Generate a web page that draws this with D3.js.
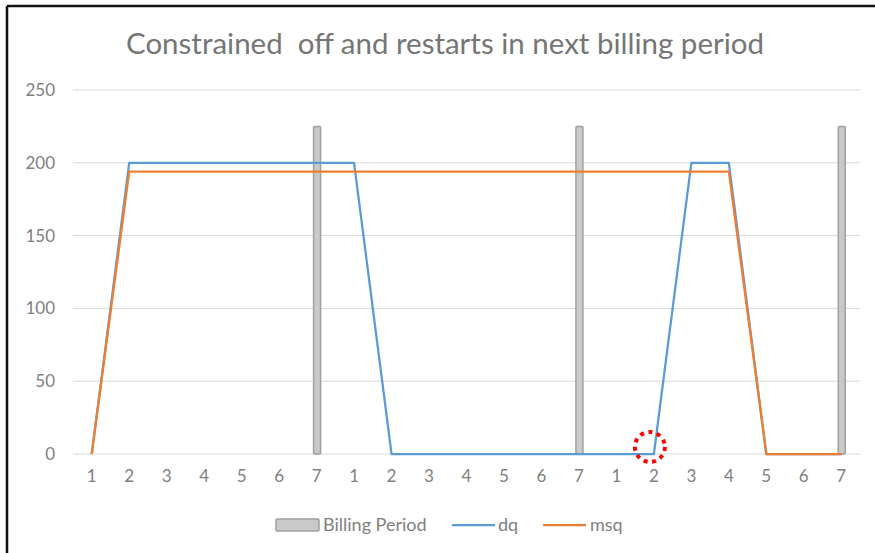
<!DOCTYPE html>
<html>
<head>
<meta charset="utf-8">
<title>Constrained off and restarts in next billing period</title>
<style>
  body { margin: 0; background: #fff; }
  svg { display: block; font-family: Lato, "Noto Sans", sans-serif; }
</style>
</head>
<body>
<script src="https://d3js.org/d3.v7.min.js"></script>
<script>
// chart data
const periods = [1,2,3,4,5,6,7, 1,2,3,4,5,6,7, 1,2,3,4,5,6,7];
const billing = [0,0,0,0,0,0,225, 0,0,0,0,0,0,225, 0,0,0,0,0,0,225];
const dq  = [0,200,200,200,200,200,200, 200,0,0,0,0,0,0, 0,0,200,200,0,0,0];
const msq = [0,194,194,194,194,194,194, 194,194,194,194,194,194,194, 194,194,194,194,0,0,0];
const yTicks = [0, 50, 100, 150, 200, 250];
const markIndex = 15; // the circled point

let width = 875;
let height = 553;

let svg = d3.select("body").append("svg")
  .attr("width", width)
  .attr("height", height);

// frame (top and left edges only)
svg.append("line")
  .attr("x1", 7).attr("y1", 6).attr("x2", width).attr("y2", 6)
  .attr("stroke", "#111").attr("stroke-width", 2.5);
svg.append("line")
  .attr("x1", 7).attr("y1", 6).attr("x2", 7).attr("y2", height)
  .attr("stroke", "#111").attr("stroke-width", 2.5);

let idx = d3.range(periods.length);

let x = d3.scaleBand()
  .domain(idx)
  .range([73, 860]);

let y = d3.scaleLinear()
  .domain([0, 250])
  .range([454, 90]);

let cx = i => x(i) + x.bandwidth() / 2;

// gridlines
svg.selectAll(".grid")
  .data(yTicks)
  .enter()
  .append("line")
  .attr("class", "grid")
  .attr("x1", 73)
  .attr("x2", 860)
  .attr("y1", d => y(d))
  .attr("y2", d => y(d))
  .attr("stroke", "#d9d9d9")
  .attr("stroke-width", 1);

// y labels
svg.selectAll(".ylab")
  .data(yTicks)
  .enter()
  .append("text")
  .attr("class", "ylab")
  .attr("x", 55)
  .attr("y", d => y(d))
  .attr("dy", "0.35em")
  .attr("text-anchor", "end")
  .style("font-size", "17px")
  .attr("fill", "#808080")
  .text(d => d);

// x labels
svg.selectAll(".xlab")
  .data(idx)
  .enter()
  .append("text")
  .attr("class", "xlab")
  .attr("x", d => cx(d))
  .attr("y", 482)
  .attr("text-anchor", "middle")
  .style("font-size", "17px")
  .attr("fill", "#808080")
  .text(d => periods[d]);

// billing period bars
let barW = 7;
svg.selectAll(".bar")
  .data(idx.filter(i => billing[i] > 0))
  .enter()
  .append("rect")
  .attr("class", "bar")
  .attr("x", d => cx(d) - barW / 2 + 0.5)
  .attr("y", d => y(billing[d]))
  .attr("width", barW)
  .attr("height", d => y(0) - y(billing[d]))
  .attr("rx", 1)
  .attr("fill", "#c9c9c9")
  .attr("stroke", "#a0a0a0")
  .attr("stroke-width", 1.5);

// lines
let line = arr => d3.line()
  .x(d => cx(d))
  .y(d => y(arr[d]))(idx);

svg.append("path")
  .attr("d", line(dq))
  .attr("fill", "none")
  .attr("stroke", "#5b9bd5")
  .attr("stroke-width", 2.25)
  .attr("stroke-linejoin", "round");

svg.append("path")
  .attr("d", line(msq))
  .attr("fill", "none")
  .attr("stroke", "#ed7d31")
  .attr("stroke-width", 2.25)
  .attr("stroke-linejoin", "round");

// red dotted circle
svg.append("circle")
  .attr("cx", cx(markIndex) - 4)
  .attr("cy", y(dq[markIndex]) - 7)
  .attr("r", 15)
  .attr("fill", "none")
  .attr("stroke", "#ff0000")
  .attr("stroke-width", 4)
  .attr("stroke-dasharray", "4,4.6");

// title
svg.append("text")
  .attr("x", 445)
  .attr("y", 54)
  .attr("text-anchor", "middle")
  .style("font-size", "28px")
  .style("white-space", "pre")
  .attr("textLength", 638)
  .attr("lengthAdjust", "spacingAndGlyphs")
  .attr("fill", "#757575")
  .text("Constrained  off and restarts in next billing period");

// legend
let lg = svg.append("g").attr("transform", "translate(0,525)");
lg.append("rect")
  .attr("x", 276).attr("y", -6)
  .attr("width", 43).attr("height", 12)
  .attr("rx", 1)
  .attr("fill", "#c9c9c9")
  .attr("stroke", "#a0a0a0")
  .attr("stroke-width", 1.5);
lg.append("text")
  .attr("x", 323).attr("y", 0).attr("dy", "0.35em")
  .style("font-size", "18px").attr("fill", "#808080")
  .text("Billing Period");
lg.append("line")
  .attr("x1", 452).attr("x2", 495).attr("y1", 0).attr("y2", 0)
  .attr("stroke", "#5b9bd5").attr("stroke-width", 2.25);
lg.append("text")
  .attr("x", 498).attr("y", 0).attr("dy", "0.35em")
  .style("font-size", "18px").attr("fill", "#808080")
  .text("dq");
lg.append("line")
  .attr("x1", 543).attr("x2", 586).attr("y1", 0).attr("y2", 0)
  .attr("stroke", "#ed7d31").attr("stroke-width", 2.25);
lg.append("text")
  .attr("x", 590).attr("y", 0).attr("dy", "0.35em")
  .style("font-size", "18px").attr("fill", "#808080")
  .text("msq");
</script>
</body>
</html>
